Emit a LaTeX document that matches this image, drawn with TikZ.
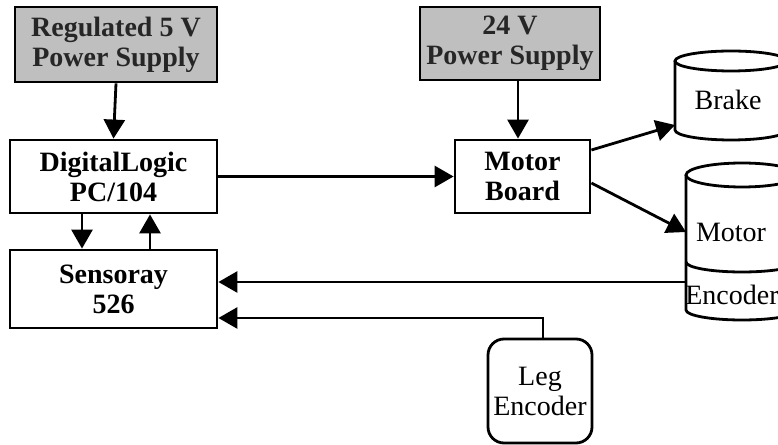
\documentclass[tikz,border=0pt]{standalone}
\usepackage{fontspec}
\setmainfont{Liberation Serif}
\usetikzlibrary{arrows.meta}
\begin{document}
\begin{tikzpicture}[x=1pt,y=1pt,
  lw/.style={line width=2.8pt},
  txt/.style={font=\fontsize{28}{30}\selectfont, align=center, inner sep=0pt},
  blk/.style={draw, lw, txt, font=\fontsize{28}{30}\selectfont\bfseries},
  psu/.style={blk, fill=black!25, text=black!85},
  arr/.style={lw, -{Triangle[length=19pt,width=21pt]}},
  cyl/.style={lw, fill=white}
]
\useasboundingbox (0,0) rectangle (778,444);
\clip (0,0) rectangle (778,444);
% boxes
\node[psu, minimum width=202pt, minimum height=75pt] (ps5) at (116,399.5) {Regulated 5 V\\Power Supply};
\node[blk, minimum width=207pt, minimum height=73pt] (dl) at (113.5,267.5) {DigitalLogic\\PC/104};
\node[blk, minimum width=207pt, minimum height=78pt] (sr) at (113.5,155) {Sensoray\\526};
\node[psu, minimum width=180pt, minimum height=73pt] (ps24) at (510,400.5) {24 V\\Power Supply};
\node[blk, minimum width=135pt, minimum height=73pt] (mb) at (522.5,267.5) {Motor\\Board};
\node[draw, lw, txt, rounded corners=16pt, minimum width=104pt, minimum height=104pt] (leg) at (540,53) {Leg\\Encoder};
% brake cylinder
\draw[cyl] (675,383) -- (675,314) arc[start angle=180, end angle=360, x radius=56, y radius=10] -- (787,383);
\draw[cyl] (731,383) ellipse[x radius=56, y radius=10];
\node[txt] (brake) at (728,344) {Brake};
\coordinate (brakeIn) at (675,319);
% motor cylinder
\draw[cyl] (686,269) -- (686,134) arc[start angle=180, end angle=360, x radius=56, y radius=10] -- (798,269);
\draw[cyl] (742,269) ellipse[x radius=56, y radius=12];
\draw[lw] (686,182) arc[start angle=180, end angle=360, x radius=56, y radius=10];
\node[txt] (motor) at (731,212) {Motor};
\node[txt] (enc) at (732,149) {Encoder};
\coordinate (motorIn) at (686,212);
\coordinate (encOut) at (686,162);
% connectors
\draw[arr] (ps5.south) -- (dl.north);
\draw[arr] (ps24.south -| 518,0) -- (mb.north -| 518,0);
\draw[arr] (dl.south -| 82,0) -- (sr.north -| 82,0);
\draw[arr] (sr.north -| 150,0) -- (dl.south -| 150,0);
\draw[arr] (dl.east) -- (mb.west);
\draw[arr] (mb.east |- 0,294) -- (brakeIn);
\draw[arr] (mb.east |- 0,261) -- (motorIn);
\draw[arr] (encOut) -- (sr.east |- encOut);
\draw[arr] (leg.north -| 543,0) |- (sr.east |- 0,126);
\end{tikzpicture}
\end{document}
